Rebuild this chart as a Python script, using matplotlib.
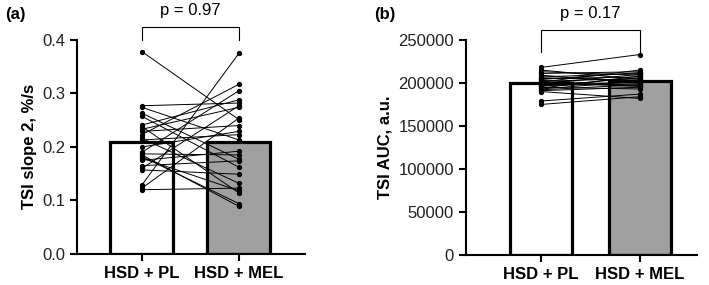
import numpy as np
import matplotlib
matplotlib.use("Agg")
import matplotlib.pyplot as plt

plt.rcParams['font.family'] = ['Liberation Sans', 'DejaVu Sans']

groups = ["HSD + PL", "HSD + MEL"]

# panel (a) TSI slope 2, %/s  (paired per subject)
slope_pl = [0.378, 0.129, 0.120, 0.277, 0.274, 0.263, 0.257, 0.241, 0.238, 0.233,
            0.229, 0.223, 0.216, 0.213, 0.190, 0.187, 0.182, 0.179, 0.160, 0.157,
            0.123, 0.200, 0.185, 0.175, 0.165]
slope_mel = [0.251, 0.375, 0.123, 0.282, 0.213, 0.177, 0.162, 0.288, 0.114, 0.274,
             0.240, 0.317, 0.132, 0.223, 0.305, 0.185, 0.094, 0.118, 0.277, 0.149,
             0.254, 0.229, 0.089, 0.192, 0.174]
slope_bars = [0.209, 0.210]

# panel (b) TSI AUC, a.u.
auc_pl = [218000, 215000, 213000, 211000, 209000, 207000, 206000, 205000, 204000, 203000,
          202000, 201000, 200000, 199000, 198000, 197000, 196000, 195000, 194000, 193000,
          192000, 191000, 190000, 179000, 175000]
auc_mel = [233000, 204000, 209000, 213000, 200000, 211000, 203000, 207000, 212000, 197000,
           205000, 215000, 196000, 210000, 201000, 199000, 206000, 193000, 208000, 202000,
           198000, 195000, 182000, 187000, 184000]
auc_bars = [199500, 202300]

p_values = ["p = 0.97", "p = 0.17"]

fig = plt.figure(figsize=(7.09, 2.85), dpi=100)
ax1 = fig.add_axes([0.1086, 0.109, 0.3214, 0.751])
ax2 = fig.add_axes([0.657, 0.105, 0.326, 0.755])

def panel(ax, pl, mel, bars, width, xlim, ylim, yticks, ylabel, ptxt, br_lo, br_hi, p_y):
    x = np.arange(2)
    ax.bar(x, bars, width=width, color=["white", "#a0a0a0"], edgecolor="black",
           linewidth=2.3, zorder=1)
    for a, b in zip(pl, mel):
        ax.plot(x, [a, b], color="black", lw=0.7, marker="o", ms=2.8, zorder=3)
    ax.set_xlim(*xlim)
    ax.set_ylim(*ylim)
    ax.set_yticks(yticks)
    ax.set_xticks(x)
    ax.set_xticklabels(groups, fontsize=12, fontweight="bold")
    ax.tick_params(axis="y", labelsize=12, width=1.5, length=5, labelcolor="#222222")
    ax.tick_params(axis="x", width=1.5, length=5)
    ax.set_ylabel(ylabel, fontsize=12, fontweight="bold")
    for s in ["top", "right"]:
        ax.spines[s].set_visible(False)
    for s in ["left", "bottom"]:
        ax.spines[s].set_linewidth(1.5)
    ax.plot([0, 0, 1, 1], [br_lo, br_hi, br_hi, br_lo], color="black", lw=0.8, clip_on=False)
    ax.text(0.5, p_y, ptxt, ha="center", va="center", fontsize=12)
    return ax

panel(ax1, slope_pl, slope_mel, slope_bars, 0.65, (-0.67, 1.68), (0, 0.4),
      [0.0, 0.1, 0.2, 0.3, 0.4], "TSI slope 2, %/s", p_values[0], 0.40, 0.424, 0.455)
ax1.set_yticklabels(["0.0", "0.1", "0.2", "0.3", "0.4"])
panel(ax2, auc_pl, auc_mel, auc_bars, 0.63, (-0.76, 1.58), (0, 250000),
      [0, 50000, 100000, 150000, 200000, 250000], "TSI AUC, a.u.", p_values[1],
      236000, 261000, 281000)

fig.text(0.007, 0.950, "(a)", fontsize=12, fontweight="bold", va="center")
fig.text(0.528, 0.950, "(b)", fontsize=12, fontweight="bold", va="center")

fig.savefig("out.png", dpi=100)
